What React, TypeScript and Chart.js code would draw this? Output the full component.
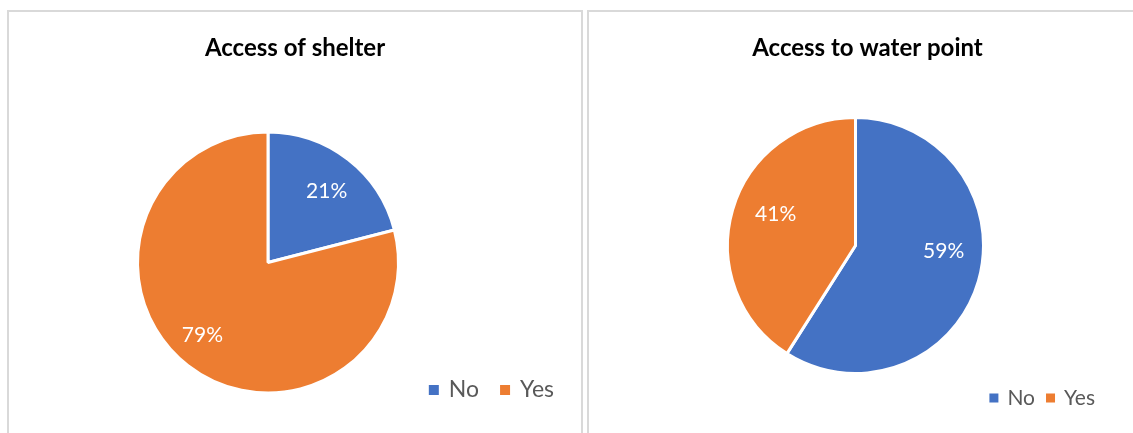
import React, { useEffect, useRef } from "react";
import { Chart, registerables } from "chart.js";

Chart.register(...registerables);

const categories = ["No", "Yes"];
const shelterValues = [21, 79];
const waterValues = [59, 41];
const shelterTitle = "Access of shelter";
const waterTitle = "Access to water point";
const sliceColors = ["#4472C4", "#ED7D31"];

const FONT = "Lato, 'Open Sans', sans-serif";

type PanelCfg = {
  title: string;
  titleSize: number;
  titleY: number;
  radius: number;
  padding: { left: number; right: number; top: number; bottom: number };
  labelSize: number;
  labelAngleShift: number[];
  labelRadius: number[];
  legendSize: number;
  legendRight: number;
  legendY: number;
  legendBox: number;
  legendGap: number;
  legendItemGap: number;
};

function makePlugin(cfg: PanelCfg) {
  return {
    id: "panelDecor",
    afterDatasetsDraw(chart: any) {
      const ctx = chart.ctx as CanvasRenderingContext2D;
      const meta = chart.getDatasetMeta(0);
      const data = chart.data.datasets[0].data as number[];
      const total = data.reduce((a, b) => a + b, 0);
      ctx.save();
      // data labels
      ctx.fillStyle = "#ffffff";
      ctx.font = `${cfg.labelSize}px ${FONT}`;
      ctx.textAlign = "center";
      ctx.textBaseline = "middle";
      meta.data.forEach((arc: any, i: number) => {
        const p = arc.getProps(["x", "y", "startAngle", "endAngle", "outerRadius"], true);
        const mid = (p.startAngle + p.endAngle) / 2 + (cfg.labelAngleShift[i] * Math.PI) / 180;
        const r = p.outerRadius * cfg.labelRadius[i];
        ctx.fillText(
          Math.round((data[i] / total) * 100) + "%",
          p.x + Math.cos(mid) * r,
          p.y + Math.sin(mid) * r
        );
      });
      // title
      ctx.fillStyle = "#000000";
      ctx.font = `bold ${cfg.titleSize}px ${FONT}`;
      ctx.fillText(cfg.title, chart.width / 2, cfg.titleY);
      // legend
      ctx.font = `${cfg.legendSize}px ${FONT}`;
      ctx.textAlign = "left";
      const labels = chart.data.labels as string[];
      const widths = labels.map((l) => cfg.legendBox + cfg.legendGap + ctx.measureText(l).width);
      const total_w = widths.reduce((a, b) => a + b, 0) + cfg.legendItemGap * (labels.length - 1);
      let x = cfg.legendRight - total_w;
      const colors = chart.data.datasets[0].backgroundColor as string[];
      labels.forEach((l, i) => {
        ctx.fillStyle = colors[i];
        ctx.fillRect(x, cfg.legendY - cfg.legendBox / 2, cfg.legendBox, cfg.legendBox);
        ctx.fillStyle = "#595959";
        ctx.fillText(l, x + cfg.legendBox + cfg.legendGap, cfg.legendY);
        x += widths[i] + cfg.legendItemGap;
      });
      ctx.restore();
    },
  };
}

function PiePanel(props: {
  values: number[];
  cfg: PanelCfg;
  left: number;
  width: number;
}) {
  const ref = useRef<HTMLCanvasElement>(null);
  const { values, cfg, left, width } = props;
  const height = 423;
  useEffect(() => {
    const chart = new Chart(ref.current!, {
      type: "pie",
      data: {
        labels: categories,
        datasets: [
          {
            data: values,
            backgroundColor: sliceColors,
            borderColor: "#ffffff",
            borderWidth: 3,
            radius: cfg.radius,
          } as any,
        ],
      },
      options: {
        animation: false,
        responsive: false,
        maintainAspectRatio: false,
        layout: { padding: cfg.padding },
        plugins: {
          legend: { display: false },
          title: { display: false },
          tooltip: { enabled: false },
        },
      },
      plugins: [makePlugin(cfg) as any],
    });
    return () => chart.destroy();
  }, []);
  return (
    <div
      style={{
        position: "absolute",
        left,
        top: 10,
        width,
        height: height + 10,
        border: "2px solid #d9d9d9",
        background: "#fff",
      }}
    >
      <canvas ref={ref} width={width} height={height} style={{ display: "block", width, height }} />
    </div>
  );
}

const shelterCfg: PanelCfg = {
  title: shelterTitle,
  titleSize: 24,
  titleY: 36,
  radius: 130.5,
  padding: { left: 0, right: 54, top: 78, bottom: 0 },
  labelSize: 21,
  labelAngleShift: [1.5, 4.3],
  labelRadius: [0.71, 0.75],
  legendSize: 23,
  legendRight: 545,
  legendY: 378,
  legendBox: 10,
  legendGap: 10,
  legendItemGap: 21,
};

const waterCfg: PanelCfg = {
  title: waterTitle,
  titleSize: 24,
  titleY: 36,
  radius: 128,
  padding: { left: 0, right: 24, top: 44, bottom: 0 },
  labelSize: 21,
  labelAngleShift: [-12.6, 5.2],
  labelRadius: [0.69, 0.67],
  legendSize: 21,
  legendRight: 506,
  legendY: 386,
  legendBox: 9,
  legendGap: 9,
  legendItemGap: 11,
};

export default function App() {
  return (
    <div
      style={{
        position: "absolute",
        left: 0,
        top: 0,
        width: 1133,
        height: 433,
        overflow: "hidden",
        background: "#fff",
      }}
    >
      <PiePanel values={shelterValues} cfg={shelterCfg} left={7} width={572} />
      <PiePanel values={waterValues} cfg={waterCfg} left={587} width={557} />
    </div>
  );
}
